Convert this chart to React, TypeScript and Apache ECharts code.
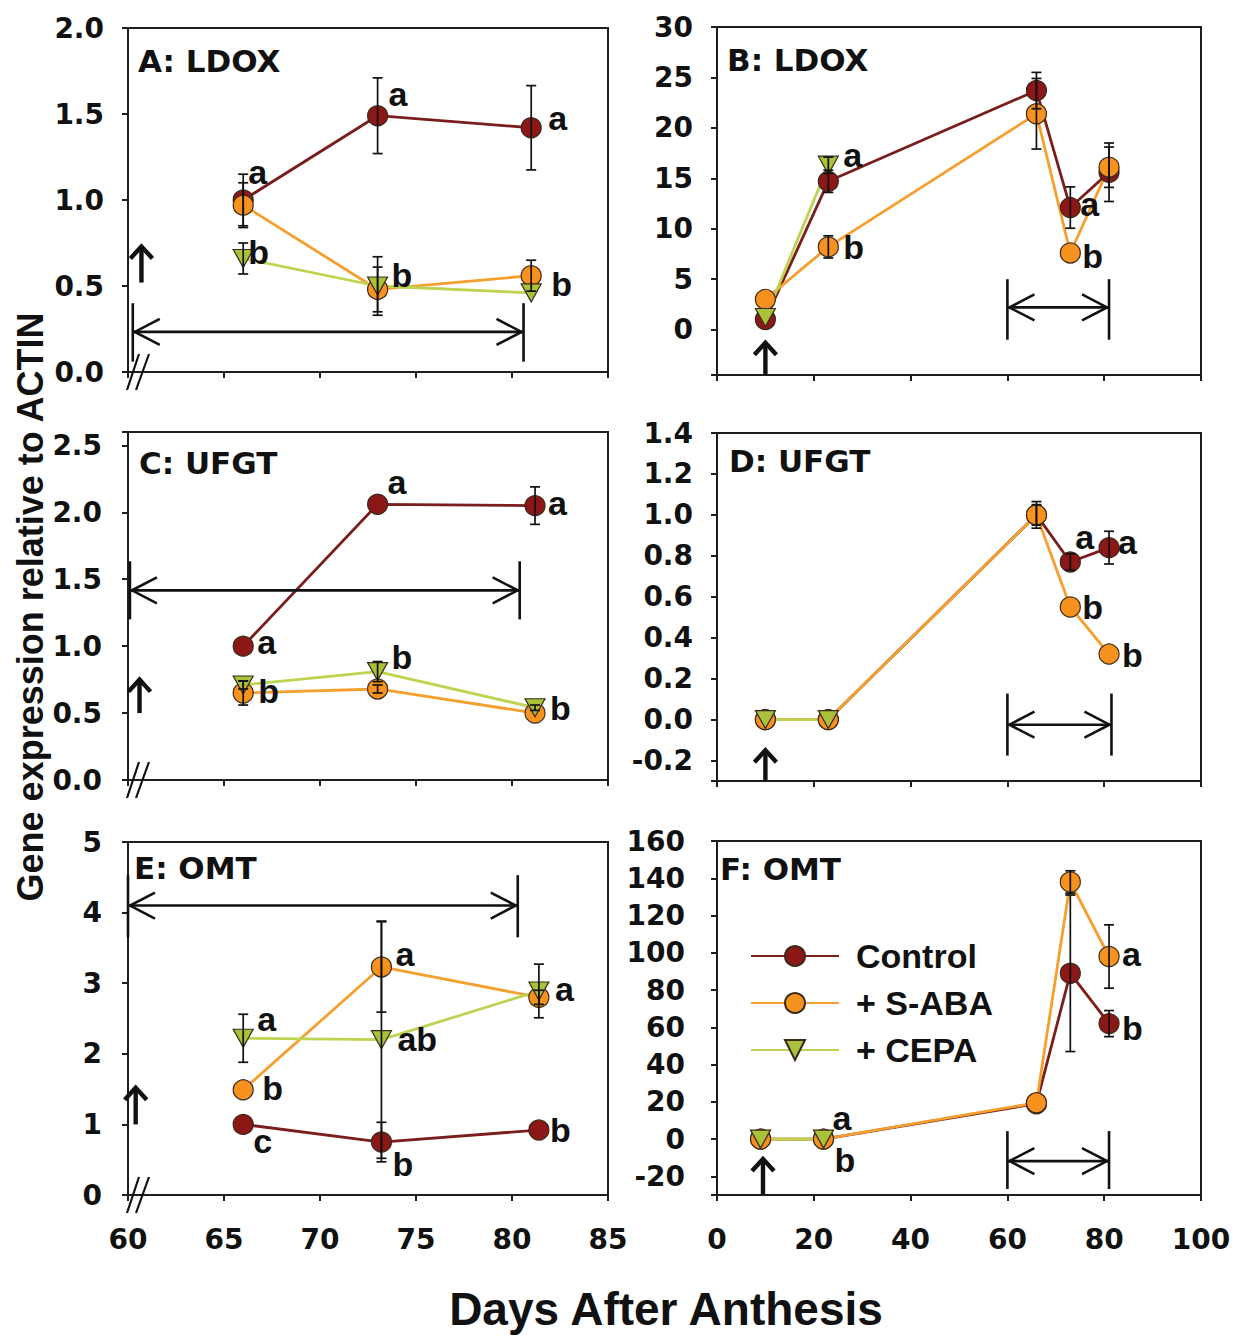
import React, { useEffect, useRef } from 'react';
import * as echarts from 'echarts';

const SERIES_NAMES = ['Control', '+ S-ABA', '+ CEPA'];
const Y_TITLE = 'Gene expression relative to ACTIN';
const X_TITLE = 'Days After Anthesis';

// ---------- Panel A: LDOX (60–85 DAA)
const A_DAYS = [66, 73, 81];
const A_CONTROL = [1.0, 1.49, 1.42];
const A_CONTROL_ERR = [0.15, 0.22, 0.245];
const A_SABA = [0.97, 0.48, 0.56];
const A_SABA_ERR = [0.13, 0.13, 0.09];
const A_CEPA = [0.66, 0.5, 0.46];
const A_CEPA_ERR = [0.09, 0.17, 0];
const A_LETTERS = [['a', 0, 0], ['b', 2, 0], ['a', 0, 1], ['a', 0, 2], ['b', 1, 1], ['b', 1, 2]];
const A_ARROW = [60.7, 0.52, 0.73];
const A_SPAN = [60.25, 80.6, 0.233, 0.06, 0.4];

// ---------- Panel B: LDOX (0–100 DAA)
const B_DAYS = [10, 23, 66, 73, 81];
const B_CEPA_DAYS = [10, 23];
const B_CONTROL = [1.0, 14.7, 23.7, 12.1, 15.6];
const B_CONTROL_ERR = [0, 1.1, 1.8, 2.05, 2.9];
const B_SABA = [3.0, 8.2, 21.4, 7.6, 16.1];
const B_SABA_ERR = [0, 1.1, 3.5, 0, 2.0];
const B_CEPA = [1.2, 16.3];
const B_CEPA_ERR = [0, 0.8];
const B_LETTERS = [['a', 2, 1], ['b', 1, 1], ['a', 0, 3], ['b', 1, 3]];
const B_ARROW = [10, -4.5, -1.3];
const B_SPAN = [60, 81, 2.2, -1.0, 5.0];

// ---------- Panel C: UFGT (60–85 DAA)
const C_DAYS = [66, 73, 81.2];
const C_CONTROL = [1.0, 2.06, 2.05];
const C_CONTROL_ERR = [0, 0, 0.14];
const C_SABA = [0.65, 0.68, 0.5];
const C_SABA_ERR = [0.09, 0.03, 0];
const C_CEPA = [0.71, 0.81, 0.54];
const C_CEPA_ERR = [0.03, 0.075, 0.02];
const C_LETTERS = [['a', 0, 0], ['b', 1, 0], ['a', 0, 1], ['a', 0, 2], ['b', 2, 1], ['b', 2, 2]];
const C_ARROW = [60.6, 0.5, 0.75];
const C_SPAN = [60.1, 80.4, 1.417, 1.2, 1.634];

// ---------- Panel D: UFGT (0–100 DAA)
const D_DAYS = [10, 23, 66, 73, 81];
const D_CEPA_DAYS = [10, 23];
const D_CONTROL = [0, 0, 1.0, 0.77, 0.84];
const D_CONTROL_ERR = [0, 0, 0.065, 0.04, 0.08];
const D_SABA = [0, 0, 1.0, 0.55, 0.32];
const D_SABA_ERR = [0, 0, 0.05, 0, 0];
const D_CEPA = [0, 0];
const D_CEPA_ERR = [0, 0];
const D_LETTERS = [['a', 0, 3], ['a', 0, 4], ['b', 1, 3], ['b', 1, 4]];
const D_ARROW = [10, -0.3, -0.15];
const D_SPAN = [60, 81.5, -0.025, -0.176, 0.127];

// ---------- Panel E: OMT (60–85 DAA)
const E_DAYS = [66, 73.2, 81.4];
const E_CONTROL = [1.0, 0.75, 0.92];
const E_CONTROL_ERR = [0, 0.28, 0];
const E_SABA = [1.49, 3.23, 2.8];
const E_SABA_ERR = [0, 0.64, 0.1];
const E_CEPA = [2.22, 2.2, 2.89];
const E_CEPA_ERR = [0.34, 1.68, 0.38];
const E_LETTERS = [['a', 2, 0], ['b', 1, 0], ['c', 0, 0], ['a', 1, 1], ['ab', 2, 1], ['b', 0, 1], ['a', 2, 2], ['b', 0, 2]];
const E_ARROW = [60.4, 1.0, 1.52];
const E_SPAN = [60, 80.3, 4.1, 3.65, 4.53];

// ---------- Panel F: OMT (0–100 DAA)
const F_DAYS = [9, 22, 66, 73, 81];
const F_CEPA_DAYS = [9, 22];
const F_CONTROL = [0, 0, 19, 89, 62];
const F_CONTROL_ERR = [0, 0, 0, 42, 7];
const F_SABA = [0, 0, 19.5, 138, 98];
const F_SABA_ERR = [0, 0, 0, 6, 17];
const F_CEPA = [0, 0];
const F_CEPA_ERR = [0, 0];
const F_LETTERS = [['a', 1, 1], ['b', 1, 1], ['a', 1, 4], ['b', 0, 4]];
const F_ARROW = [9.5, -30, -10.7];
const F_SPAN = [60, 81, -11.8, -26.8, 4.3];

// ---------- styles / layout
const LETTER_OFFSETS: any = {
  A: [[5, -28], [5, -6], [11, -22], [17, -10], [14, -14], [20, 8]],
  B: [[15, -10], [15, 0], [10, -4], [12, 3]],
  C: [[14, -4], [15, -2], [10, -22], [13, -3], [14, -15], [15, 0]],
  D: [[5, -25], [9, -6], [12, 0], [13, 1]],
  E: [[14, -19], [19, -2], [10, 17], [14, -13], [16, -1], [11, 22], [16, -2], [11, 0]],
  F: [[9, -21], [11, 21], [13, -3], [13, 4]],
};

const FILL = ['#8c1717', '#f7921e', '#aac23a'];
const LINE = ['#7a1d1d', '#f5a02e', '#bcd450'];
const MARKER_BORDER = '#3a2a1a';
const AXIS_COLOR = '#1a1f1f';
const TRI = 'path://M0,0L20,0L10,18Z';
const TICK_FONT = 'DejaVu Sans';
const TEXT_FONT = 'Liberation Sans';

const PANELS: any[] = [
  {
    key: 'A', title: 'A: LDOX', titlePos: [138, 61],
    grid: { left: 128, top: 28, width: 480, height: 344 },
    x: [60, 85, 5], showX: false, y: [0, 2.0, 0.5, 1], yMargin: 24, brk: true,
    days: [A_DAYS, A_DAYS, A_DAYS], vals: [A_CONTROL, A_SABA, A_CEPA], errs: [A_CONTROL_ERR, A_SABA_ERR, A_CEPA_ERR],
    letters: A_LETTERS, arrow: A_ARROW, span: A_SPAN,
  },
  {
    key: 'B', title: 'B: LDOX', titlePos: [727, 60],
    grid: { left: 717, top: 27, width: 484, height: 348 },
    x: [0, 100, 20], showX: false, y: [-4.5, 30, 5, 0], yMargin: 24, brk: false,
    days: [B_DAYS, B_DAYS, B_CEPA_DAYS], vals: [B_CONTROL, B_SABA, B_CEPA], errs: [B_CONTROL_ERR, B_SABA_ERR, B_CEPA_ERR],
    letters: B_LETTERS, arrow: B_ARROW, span: B_SPAN,
  },
  {
    key: 'C', title: 'C: UFGT', titlePos: [139, 463],
    grid: { left: 128, top: 432, width: 480, height: 348 },
    x: [60, 85, 5], showX: false, y: [0, 2.6, 0.5, 1], yMargin: 26, brk: true,
    days: [C_DAYS, C_DAYS, C_DAYS], vals: [C_CONTROL, C_SABA, C_CEPA], errs: [C_CONTROL_ERR, C_SABA_ERR, C_CEPA_ERR],
    letters: C_LETTERS, arrow: C_ARROW, span: C_SPAN,
  },
  {
    key: 'D', title: 'D: UFGT', titlePos: [729, 461],
    grid: { left: 717, top: 433, width: 484, height: 348 },
    x: [0, 100, 20], showX: false, y: [-0.3, 1.4, 0.2, 1], yMargin: 24, brk: false,
    days: [D_DAYS, D_DAYS, D_CEPA_DAYS], vals: [D_CONTROL, D_SABA, D_CEPA], errs: [D_CONTROL_ERR, D_SABA_ERR, D_CEPA_ERR],
    letters: D_LETTERS, arrow: D_ARROW, span: D_SPAN,
  },
  {
    key: 'E', title: 'E: OMT', titlePos: [134, 868],
    grid: { left: 128, top: 842, width: 480, height: 353 },
    x: [60, 85, 5], showX: true, y: [0, 5, 1, 0], yMargin: 26, brk: true,
    days: [E_DAYS, E_DAYS, E_DAYS], vals: [E_CONTROL, E_SABA, E_CEPA], errs: [E_CONTROL_ERR, E_SABA_ERR, E_CEPA_ERR],
    letters: E_LETTERS, arrow: E_ARROW, span: E_SPAN,
  },
  {
    key: 'F', title: 'F: OMT', titlePos: [720, 869],
    grid: { left: 717, top: 841, width: 484, height: 354 },
    x: [0, 100, 20], showX: true, y: [-30, 160, 20, 0], yMargin: 32, brk: false,
    days: [F_DAYS, F_DAYS, F_CEPA_DAYS], vals: [F_CONTROL, F_SABA, F_CEPA], errs: [F_CONTROL_ERR, F_SABA_ERR, F_CEPA_ERR],
    letters: F_LETTERS, arrow: F_ARROW, span: F_SPAN,
  },
];

function isMultiple(v: number, iv: number) {
  const r = v / iv;
  return Math.abs(r - Math.round(r)) < 1e-6;
}

function buildOption() {
  const series: any[] = [];
  PANELS.forEach((p, gi) => {
    // lines with markers
    for (let s = 0; s < 3; s++) {
      series.push({
        type: 'line',
        name: SERIES_NAMES[s],
        xAxisIndex: gi,
        yAxisIndex: gi,
        data: p.days[s].map((d: number, k: number) => [d, p.vals[s][k]]),
        symbol: s === 2 ? TRI : 'circle',
        symbolSize: s === 2 ? [20, 18] : 20,
        showSymbol: true,
        showAllSymbol: true,
        clip: false,
        silent: true,
        z: 2,
        lineStyle: { color: LINE[s], width: 2.8 },
        itemStyle: { color: FILL[s], borderColor: MARKER_BORDER, borderWidth: 1.2 },
        emphasis: { disabled: true },
      });
    }
    // error bars
    const errRows: number[][] = [];
    for (let s = 0; s < 3; s++) {
      p.days[s].forEach((d: number, k: number) => {
        const e = p.errs[s][k];
        if (e > 0) errRows.push([d, p.vals[s][k], e]);
      });
    }
    series.push({
      type: 'custom',
      xAxisIndex: gi,
      yAxisIndex: gi,
      silent: true,
      clip: false,
      z: 3,
      data: errRows,
      renderItem: (params: any, api: any) => {
        const x = api.value(0), y = api.value(1), e = api.value(2);
        const t = api.coord([x, y + e]);
        const b = api.coord([x, y - e]);
        const w = 5;
        const st = { stroke: '#111', lineWidth: 1.7, fill: 'none' };
        return {
          type: 'group',
          children: [
            { type: 'line', shape: { x1: t[0], y1: t[1], x2: b[0], y2: b[1] }, style: st },
            { type: 'line', shape: { x1: t[0] - w, y1: t[1], x2: t[0] + w, y2: t[1] }, style: st },
            { type: 'line', shape: { x1: b[0] - w, y1: b[1], x2: b[0] + w, y2: b[1] }, style: st },
          ],
        };
      },
    });
    // significance letters
    const letters = p.letters;
    const offs = LETTER_OFFSETS[p.key];
    series.push({
      type: 'custom',
      xAxisIndex: gi,
      yAxisIndex: gi,
      silent: true,
      clip: false,
      z: 4,
      data: letters.map((L: any) => [p.days[L[1]][L[2]], p.vals[L[1]][L[2]]]),
      renderItem: (params: any, api: any) => {
        const L = letters[params.dataIndex];
        const o = offs[params.dataIndex];
        const pt = api.coord([api.value(0), api.value(1)]);
        return {
          type: 'text',
          x: pt[0] + o[0],
          y: pt[1] + o[1],
          style: {
            text: L[0],
            fill: '#111',
            font: `bold 34px "${TEXT_FONT}"`,
            align: 'left',
            verticalAlign: 'middle',
          },
        };
      },
    });
    // arrows, treatment window and axis break marks
    const ar = p.arrow;
    const sp = p.span;
    series.push({
      type: 'custom',
      xAxisIndex: gi,
      yAxisIndex: gi,
      silent: true,
      clip: false,
      z: 4,
      data: [[ar[0], ar[2]]],
      renderItem: (params: any, api: any) => {
        const ch: any[] = [];
        const thick = { stroke: '#111', lineWidth: 4.4, fill: 'none', lineJoin: 'miter' };
        const thin = { stroke: '#111', lineWidth: 2.6, fill: 'none' };
        const a0 = api.coord([ar[0], ar[1]]);
        const a1 = api.coord([ar[0], ar[2]]);
        ch.push({ type: 'line', shape: { x1: a0[0], y1: a0[1], x2: a1[0], y2: a1[1] + 2 }, style: thick });
        ch.push({ type: 'polyline', shape: { points: [[a1[0] - 11, a1[1] + 12], [a1[0], a1[1]], [a1[0] + 11, a1[1] + 12]] }, style: thick });
        const l = api.coord([sp[0], sp[2]]);
        const r = api.coord([sp[1], sp[2]]);
        const lt = api.coord([sp[0], sp[4]]);
        const lb = api.coord([sp[0], sp[3]]);
        const rt = api.coord([sp[1], sp[4]]);
        const rb = api.coord([sp[1], sp[3]]);
        ch.push({ type: 'line', shape: { x1: l[0], y1: l[1], x2: r[0], y2: r[1] }, style: thin });
        ch.push({ type: 'line', shape: { x1: lt[0], y1: lt[1], x2: lb[0], y2: lb[1] }, style: thin });
        ch.push({ type: 'line', shape: { x1: rt[0], y1: rt[1], x2: rb[0], y2: rb[1] }, style: thin });
        ch.push({ type: 'polyline', shape: { points: [[l[0] + 27, l[1] - 13], [l[0] + 2, l[1]], [l[0] + 27, l[1] + 13]] }, style: thin });
        ch.push({ type: 'polyline', shape: { points: [[r[0] - 27, r[1] - 13], [r[0] - 2, r[1]], [r[0] - 27, r[1] + 13]] }, style: thin });
        if (p.brk) {
          const c = api.coord([p.x[0], p.y[0]]);
          const bs = { stroke: '#111', lineWidth: 2.2, fill: 'none' };
          ch.push({ type: 'line', shape: { x1: c[0] - 1, y1: c[1] + 18, x2: c[0] + 11, y2: c[1] - 18 }, style: bs });
          ch.push({ type: 'line', shape: { x1: c[0] + 8, y1: c[1] + 18, x2: c[0] + 21, y2: c[1] - 18 }, style: bs });
        }
        return { type: 'group', children: ch };
      },
    });
  });

  const tickLabel = { fontFamily: TICK_FONT, fontWeight: 'bold', fontSize: 28, color: '#111' };

  return {
    animation: false,
    backgroundColor: '#ffffff',
    grid: PANELS.map((p) => ({
      ...p.grid,
      show: true,
      borderColor: AXIS_COLOR,
      borderWidth: 2,
      backgroundColor: 'transparent',
    })),
    xAxis: PANELS.map((p, gi) => ({
      type: 'value',
      gridIndex: gi,
      min: p.x[0],
      max: p.x[1],
      interval: p.x[2],
      axisLine: { show: true, onZero: false, lineStyle: { color: AXIS_COLOR, width: 2 } },
      axisTick: { show: true, inside: false, length: 6, lineStyle: { color: AXIS_COLOR, width: 2 } },
      axisLabel: { show: p.showX, margin: 30, ...tickLabel },
      splitLine: { show: false },
    })),
    yAxis: PANELS.map((p, gi) => ({
      type: 'value',
      gridIndex: gi,
      min: p.y[0],
      max: p.y[1],
      minInterval: p.y[2],
      maxInterval: p.y[2],
      axisLine: { show: true, onZero: false, lineStyle: { color: AXIS_COLOR, width: 2 } },
      axisTick: { show: true, inside: false, length: 6, lineStyle: { color: AXIS_COLOR, width: 2 } },
      axisLabel: {
        margin: p.yMargin,
        ...tickLabel,
        formatter: (v: number) => (isMultiple(v, p.y[2]) ? (Math.abs(v) < 1e-9 ? 0 : v).toFixed(p.y[3]) : ''),
      },
      splitLine: { show: false },
    })),
    legend: {
      data: SERIES_NAMES,
      orient: 'vertical',
      left: 745,
      top: 934,
      itemWidth: 88,
      itemHeight: 25,
      itemGap: 13,
      selectedMode: false,
      textStyle: {
        fontFamily: TEXT_FONT,
        fontWeight: 'bold',
        fontSize: 34,
        lineHeight: 34,
        color: '#111',
        padding: [0, 0, 0, 12],
      },
    },
    graphic: [
      ...PANELS.map((p) => ({
        type: 'text',
        x: p.titlePos[0],
        y: p.titlePos[1],
        silent: true,
        style: {
          text: p.title,
          fill: '#111',
          font: `bold 31px "${TICK_FONT}"`,
          align: 'left',
          verticalAlign: 'middle',
        },
      })),
      {
        type: 'text',
        x: 30,
        y: 607,
        rotation: Math.PI / 2,
        silent: true,
        style: {
          text: Y_TITLE,
          fill: '#111',
          font: `bold 36px "${TEXT_FONT}"`,
          align: 'center',
          verticalAlign: 'middle',
        },
      },
      {
        type: 'text',
        x: 666,
        y: 1309,
        silent: true,
        style: {
          text: X_TITLE,
          fill: '#111',
          font: `bold 46px "${TEXT_FONT}"`,
          align: 'center',
          verticalAlign: 'middle',
        },
      },
    ],
    series,
  };
}

export default function App() {
  const ref = useRef<HTMLDivElement>(null);
  useEffect(() => {
    if (!ref.current) return;
    const chart = echarts.init(ref.current, undefined, { renderer: 'svg' });
    chart.setOption(buildOption() as any);
    return () => chart.dispose();
  }, []);
  return (
    <div
      ref={ref}
      style={{ position: 'absolute', left: 0, top: 0, width: 1253, height: 1340, background: '#fff' }}
    />
  );
}
